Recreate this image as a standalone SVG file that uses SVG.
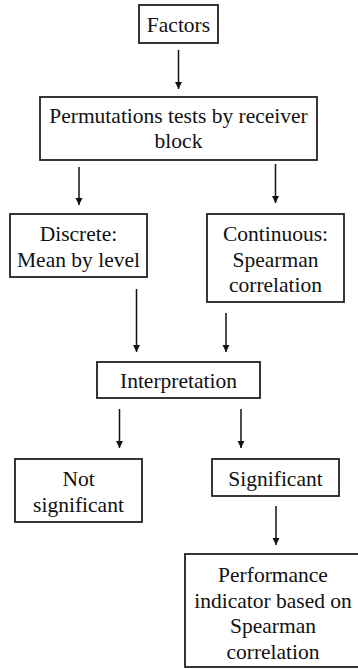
<svg xmlns="http://www.w3.org/2000/svg" width="358" height="669" viewBox="0 0 358 669">
<style>
.box{fill:#fff;stroke:#222;stroke-width:1.8}
.t{font-family:'Liberation Serif','DejaVu Serif',serif;font-size:21.5px;fill:#111;text-anchor:middle}
.c{stroke:#111;stroke-width:1.5;fill:none;marker-end:url(#ah)}
</style>
<defs>
<marker id="ah" markerWidth="8" markerHeight="8" refX="7" refY="4" orient="auto" markerUnits="userSpaceOnUse">
<path d="M0,0.5 L7,4 L0,7.5 Z" fill="#111"/>
</marker>
</defs>
<rect width="358" height="669" fill="#fff"/>
<g id="connectors">
<line class="c" x1="178.5" y1="50" x2="178.5" y2="89"/>
<line class="c" x1="79" y1="167" x2="79" y2="205"/>
<line class="c" x1="275.5" y1="164" x2="275.5" y2="203"/>
<line class="c" x1="136.5" y1="289" x2="136.5" y2="352"/>
<line class="c" x1="226" y1="313" x2="226" y2="352"/>
<line class="c" x1="119.5" y1="409" x2="119.5" y2="448"/>
<line class="c" x1="241" y1="409" x2="241" y2="448"/>
<line class="c" x1="276" y1="506" x2="276" y2="545"/>
</g>
<g id="factors">
<rect class="box" x="139" y="5" width="79" height="38"/>
<text class="t" x="178.5" y="32">Factors</text>
</g>
<g id="permutations">
<rect class="box" x="40" y="97" width="277" height="63"/>
<text class="t" x="178.5" y="123">Permutations tests by receiver</text>
<text class="t" x="178.5" y="148">block</text>
</g>
<g id="discrete">
<rect class="box" x="10" y="214" width="137" height="63"/>
<text class="t" x="78.5" y="241">Discrete:</text>
<text class="t" x="78.5" y="267">Mean by level</text>
</g>
<g id="continuous">
<rect class="box" x="207" y="214" width="137" height="88"/>
<text class="t" x="275.5" y="241">Continuous:</text>
<text class="t" x="275.5" y="267">Spearman</text>
<text class="t" x="275.5" y="292">correlation</text>
</g>
<g id="interpretation">
<rect class="box" x="97" y="362" width="163" height="36"/>
<text class="t" x="178.5" y="388">Interpretation</text>
</g>
<g id="not-significant">
<rect class="box" x="15" y="459" width="127" height="63"/>
<text class="t" x="78.5" y="486">Not</text>
<text class="t" x="78.5" y="512">significant</text>
</g>
<g id="significant">
<rect class="box" x="212" y="459" width="127" height="37"/>
<text class="t" x="275.5" y="486">Significant</text>
</g>
<g id="performance">
<rect class="box" x="185" y="554" width="180" height="113"/>
<text class="t" x="273" y="582">Performance</text>
<text class="t" x="273" y="608">indicator based on</text>
<text class="t" x="273" y="633">Spearman</text>
<text class="t" x="273" y="659">correlation</text>
</g>
</svg>
